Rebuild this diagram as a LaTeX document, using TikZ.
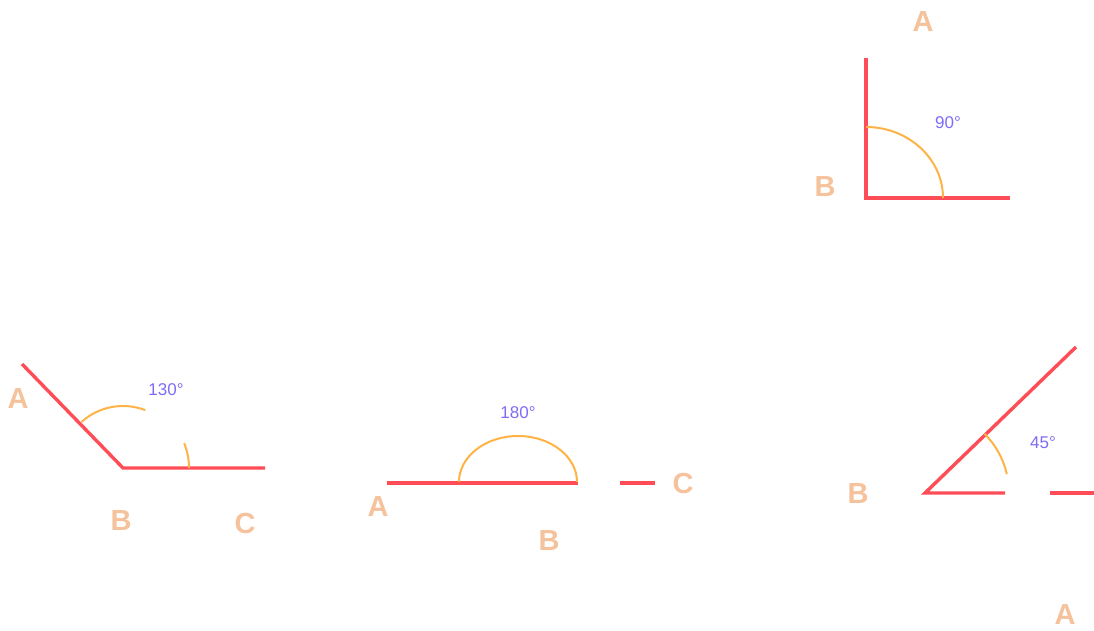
\documentclass[tikz,border=0pt]{standalone}
\usepackage{fontspec}
\setmainfont{Liberation Sans}
\usepackage{tikz}
\usetikzlibrary{positioning}
\definecolor{rayred}{HTML}{FF4D57}
\definecolor{arcorange}{HTML}{FFB347}
\definecolor{labpeach}{HTML}{F5C29C}
\definecolor{degblue}{HTML}{7D6CF7}

\begin{document}
\begin{tikzpicture}[
  x=1pt, y=1pt,
  ray/.style={draw=rayred, line width=3.4pt},
  sweep/.style={draw=arcorange, line width=2pt},
  pt/.style={text=labpeach, font=\fontsize{29}{29}\selectfont\bfseries, inner sep=0pt},
  deg/.style={text=degblue, font=\fontsize{17}{17}\selectfont, inner sep=0pt}]

\useasboundingbox[fill=white] (0,0) rectangle (1094,630);

% right angle, top right
\coordinate (rB) at (866,432);
\coordinate (rA) at (866,572);
\coordinate (rC) at (1010,432);
\draw[ray] (rA) -- (rB) -- (rC);
\draw[sweep] (rB) ++(0:77) arc[start angle=0, end angle=90, x radius=77, y radius=71];
\node[deg] (rDeg) at (948,507) {90°};
\node[pt] (rLA) at (923,608) {A};
\node[pt] (rLB) at (825,443) {B};

% obtuse angle, left
\coordinate (oB) at (123,162);
\coordinate (oA) at (22,266);
\coordinate (oC) at (265,162);
\draw[ray] (oA) -- (oB) -- (oC);
\draw[sweep] (oB) ++(132:62) arc[start angle=132, end angle=69, radius=62];
\draw[sweep] (oB) ++(22:66) arc[start angle=22, end angle=0, radius=66];
\node[deg] (oDeg) at (166,240) {130°};
\node[pt] (oLA) at (18,231) {A};
\node[pt] (oLB) at (121,109) {B};
\node[pt] (oLC) at (245,106) {C};

% straight angle, middle
\coordinate (sA) at (387,147);
\coordinate (sB) at (578,147);
\coordinate (sC1) at (620,147);
\coordinate (sC) at (655,147);
\draw[ray] (sA) -- (sB);
\draw[ray] (sC1) -- (sC);
\draw[sweep] (577,148) arc[start angle=0, end angle=180, x radius=59, y radius=46];
\node[deg] (sDeg) at (518,217) {180°};
\node[pt] (sLA) at (378,123) {A};
\node[pt] (sLB) at (549,89) {B};
\node[pt] (sLC) at (683,146) {C};

% acute angle, bottom right
\coordinate (aB) at (925,137);
\coordinate (aA) at (1076,283);
\coordinate (aG1) at (1005,137);
\coordinate (aG2) at (1050,137);
\coordinate (aC) at (1094,137);
\draw[ray] (aA) -- (aB) -- (aG1);
\draw[ray] (aG2) -- (aC);
\draw[sweep] (aB) ++(45:84) arc[start angle=45, end angle=13, radius=84];
\node[deg] (aDeg) at (1043,187) {45°};
\node[pt] (aLB) at (858,136) {B};
\node[pt] (aLA) at (1065,15) {A};
\end{tikzpicture}
\end{document}
